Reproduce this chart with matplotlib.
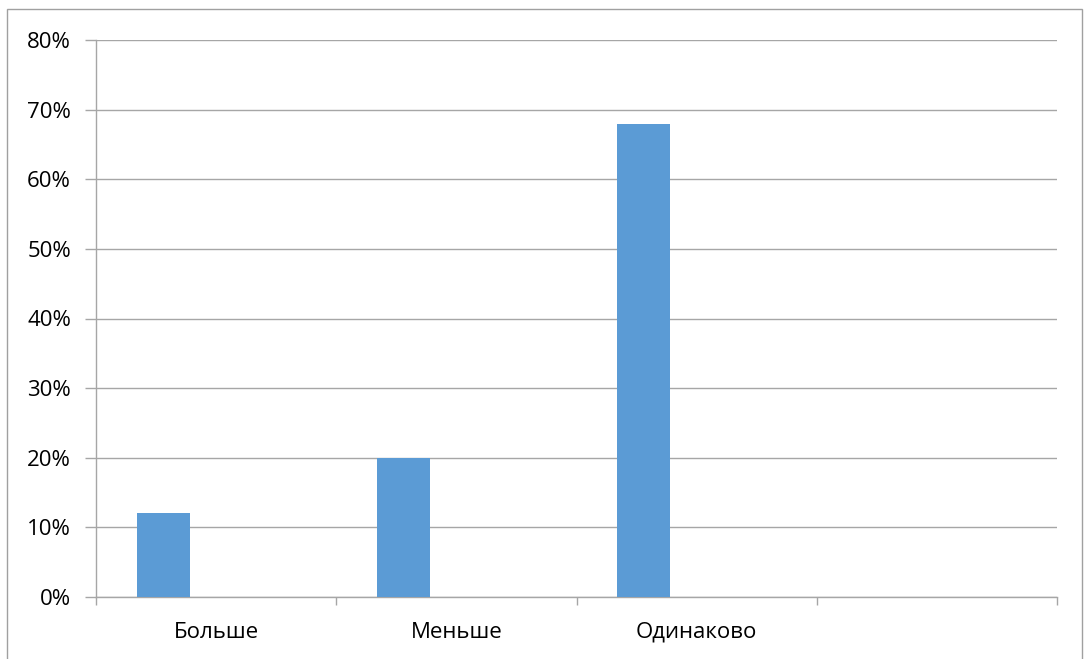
import numpy as np
import matplotlib.pyplot as plt
from matplotlib.patches import Rectangle

categories = ['Больше', 'Меньше', 'Одинаково', '']
values = [0.12, 0.20, 0.68, np.nan]
yticks = [0, 0.1, 0.2, 0.3, 0.4, 0.5, 0.6, 0.7, 0.8]

plt.rcParams['font.family'] = ['Open Sans', 'DejaVu Sans']

W, H = 1087, 659
fig = plt.figure(figsize=(W / 100, H / 100), dpi=100)
ax = fig.add_axes([96 / W, 1 - 597 / H, (1057 - 96) / W, (597 - 40) / H])

# outer chart frame
fig.patches.append(Rectangle((7 / W, -0.05), (1082 - 7) / W, 1 - 9 / H + 0.05,
                             transform=fig.transFigure, fill=False,
                             edgecolor='#a0a0a0', linewidth=1))

x = np.arange(len(categories))
w = 0.22
ax.bar(x - w, values, width=w, color='#5b9bd5', zorder=3)

ax.set_xlim(-0.5, len(categories) - 0.5)
ax.set_ylim(0, 0.8)
ax.set_yticks(yticks)
ax.set_yticklabels([f'{int(round(v * 100))}%' for v in yticks], fontsize=16)
ax.yaxis.grid(True, color='#a6a6a6', linewidth=1)
ax.set_axisbelow(True)

ax.set_xticks(np.arange(len(categories) + 1) - 0.5)
ax.set_xticklabels([])
ax.set_xticks(x, minor=True)
ax.set_xticklabels(categories, minor=True, fontsize=16)
ax.tick_params(axis='x', which='minor', length=0, pad=18)
ax.tick_params(axis='x', which='major', length=6, color='#a6a6a6', width=1)
ax.tick_params(axis='y', length=8, color='#a6a6a6', width=1, pad=10)

for s in ['top', 'right']:
    ax.spines[s].set_visible(False)
for s in ['left', 'bottom']:
    ax.spines[s].set_color('#a6a6a6')
    ax.spines[s].set_linewidth(1)

fig.savefig('out.png', dpi=100)
